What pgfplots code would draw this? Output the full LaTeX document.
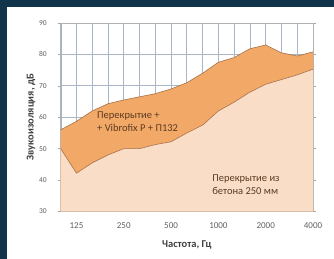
\documentclass[border=0pt]{standalone}
\usepackage{pgfplots}
\pgfplotsset{compat=1.18}
\usepackage{pgfplotstable}
\usepackage{fontspec}
\setmainfont{Carlito}
\definecolor{frame}{HTML}{12344A}
\definecolor{upperfill}{HTML}{F2A867}
\definecolor{lowerfill}{HTML}{FADDC6}
\definecolor{edge}{HTML}{A8714A}
\definecolor{gridc}{HTML}{A9B6C6}
\definecolor{txt}{HTML}{5C3C22}
\pgfplotstableread{
i v
0 56
1 58.7
2 62
3 64.3
4 65.5
5 66.5
6 67.5
7 69
8 71
9 74
10 77.5
11 79
12 81.8
13 83
14 80.5
15 79.5
16 80.8
}\tabUpper
\pgfplotstableread{
i v
0 50
1 42.2
2 45.5
3 48
4 50
5 50
6 51.3
7 52.2
8 55
9 57.5
10 62
11 64.8
12 68
13 70.5
14 72
15 73.5
16 75.3
}\tabLower
\begin{document}
\begin{tikzpicture}[x=1pt,y=1pt]
\fill[frame] (0,0) rectangle (334,259);
\fill[white] (7,0) rectangle (334,252);
\begin{axis}[
  scale only axis,
  width=252.3pt, height=188.5pt,
  at={(60.7pt,47.5pt)}, anchor=south west,
  xmin=0, xmax=16, ymin=30, ymax=90,
  xtick={1,4,7,10,13,16},
  xticklabels={125,250,500,1000,2000,4000},
  minor xtick={0,...,16},
  ytick={30,40,...,90},
  xmajorgrids, xminorgrids, ymajorgrids,
  grid style={gridc, line width=0.8pt},
  minor grid style={gridc, line width=0.8pt},
  axis line style={draw=gray!60},
  tick style={draw=gray!70, line width=0.5pt},
  major tick length=2.5pt,
  minor tick length=0pt,
  tick align=outside,
  xtick style={draw=none},
  /pgf/number format/assume math mode=true,
  xticklabel style={font=\fontsize{9}{10}\selectfont, text=gray!75!black, yshift=-5pt},
  yticklabel style={font=\fontsize{7.5}{8}\selectfont, text=gray!75!black, xshift=-8pt},
  xlabel={\textbf{Частота, Гц}},
  ylabel={\textbf{Звукоизоляция, дБ}},
  label style={font=\fontsize{10.5}{12}\selectfont, text=black!75},
  xlabel style={yshift=-5pt},
  ylabel style={yshift=-3pt},
  clip=true,
]
\addplot[fill=upperfill, draw=none] table[x=i,y=v] {\tabUpper} \closedcycle;
\addplot[fill=lowerfill, draw=none] table[x=i,y=v] {\tabLower} \closedcycle;
\addplot[edge, line width=0.6pt] table[x=i,y=v] {\tabUpper};
\addplot[edge, line width=0.6pt] table[x=i,y=v] {\tabLower};
\node[anchor=west, align=left, text=txt, font=\fontsize{10.5}{13}\selectfont, inner sep=0pt] at (axis cs:2.3,58.7) {Перекрытие +\\+ Vibrofix P + П132};
\node[anchor=west, align=left, text=txt, font=\fontsize{10.5}{13}\selectfont, inner sep=0pt] at (axis cs:9.6,38.5) {Перекрытие из\\бетона 250 мм};
\end{axis}
\end{tikzpicture}
\end{document}
